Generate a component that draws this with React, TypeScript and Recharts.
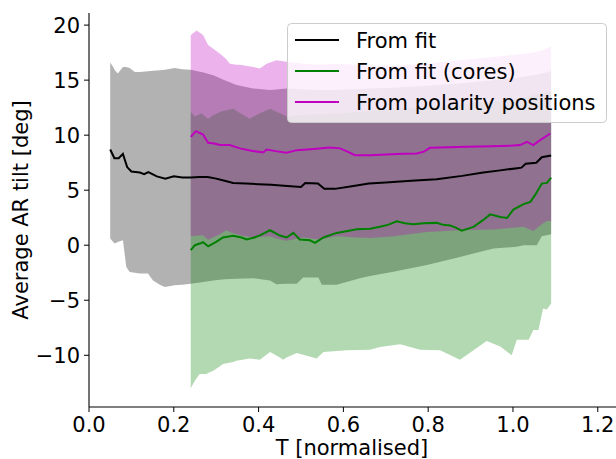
import { ComposedChart, Area, Line, XAxis, YAxis } from 'recharts';

// T [normalised] grid and values for "From fit"
const fitT = [0.05, 0.06, 0.07, 0.08, 0.09, 0.10, 0.12, 0.13, 0.14, 0.16, 0.18, 0.20, 0.22, 0.24, 0.26, 0.28, 0.30, 0.32, 0.34, 0.37, 0.40, 0.43, 0.46, 0.50, 0.51, 0.54, 0.555, 0.58, 0.62, 0.66, 0.70, 0.76, 0.82, 0.88, 0.93, 0.97, 1.01, 1.02, 1.03, 1.055, 1.068, 1.09];
const fitMean = [8.7, 7.9, 7.9, 8.3, 7.1, 6.7, 6.6, 6.45, 6.65, 6.25, 6.05, 6.27, 6.15, 6.15, 6.2, 6.2, 6.05, 5.85, 5.66, 5.6, 5.55, 5.5, 5.4, 5.3, 5.66, 5.6, 5.12, 5.12, 5.35, 5.6, 5.7, 5.85, 6.0, 6.3, 6.6, 6.8, 7.0, 7.05, 7.4, 7.5, 8.0, 8.15];

const fitBandT = [0.05, 0.057, 0.061, 0.068, 0.08, 0.088, 0.096, 0.108, 0.12, 0.139, 0.151, 0.167, 0.179, 0.202, 0.22, 0.24, 0.27, 0.293, 0.32, 0.348, 0.387, 0.427, 0.442, 0.466, 0.49, 0.505, 0.541, 0.549, 0.584, 0.639, 0.663, 0.718, 0.797, 0.875, 0.954, 1.009, 1.025, 1.056, 1.068, 1.09];
const fitHigh = [16.6, 16.2, 15.9, 15.6, 16.2, 16.2, 16.1, 15.75, 15.75, 15.8, 15.85, 15.9, 15.95, 16.1, 16.0, 15.95, 15.7, 15.45, 15.0, 14.55, 14.25, 14.1, 14.15, 14.25, 14.2, 14.15, 14.1, 14.1, 14.1, 14.2, 14.25, 14.3, 14.5, 14.7, 15.0, 15.2, 15.3, 15.5, 15.6, 15.8];
const fitLow = [0.6, 0.3, 0.15, 0.3, 0.45, -1.97, -2.43, -2.5, -2.57, -2.57, -3.2, -3.6, -3.8, -3.64, -3.6, -3.5, -3.35, -3.2, -3.1, -3.05, -3.0, -3.2, -3.55, -3.5, -3.5, -2.94, -2.94, -3.6, -3.6, -3.0, -2.8, -2.4, -1.8, -1.06, -0.3, -0.15, 0.0, 0.0, 0.82, 1.0];

// "From fit (cores)"
const coreT = [0.24, 0.25, 0.261, 0.269, 0.281, 0.30, 0.316, 0.34, 0.36, 0.372, 0.39, 0.403, 0.427, 0.45, 0.466, 0.482, 0.497, 0.521, 0.533, 0.553, 0.584, 0.61, 0.631, 0.663, 0.686, 0.705, 0.726, 0.745, 0.765, 0.79, 0.82, 0.835, 0.852, 0.865, 0.879, 0.907, 0.93, 0.946, 0.97, 0.986, 1.001, 1.025, 1.041, 1.052, 1.068, 1.08, 1.09];
const coreMean = [-0.45, 0.0, 0.15, 0.27, -0.1, 0.3, 0.7, 0.85, 0.7, 0.52, 0.7, 0.9, 1.36, 0.88, 0.7, 1.12, 0.52, 0.45, 0.21, 0.7, 1.12, 1.3, 1.45, 1.5, 1.67, 1.85, 2.18, 2.0, 1.9, 2.0, 2.03, 1.85, 1.8, 1.6, 1.33, 1.67, 2.3, 2.8, 2.57, 2.48, 3.24, 3.73, 3.94, 4.55, 5.6, 5.66, 6.15];

const coreBandT = [0.24, 0.25, 0.261, 0.265, 0.277, 0.281, 0.293, 0.309, 0.316, 0.34, 0.348, 0.379, 0.403, 0.427, 0.45, 0.458, 0.466, 0.49, 0.537, 0.553, 0.608, 0.663, 0.686, 0.734, 0.781, 0.828, 0.875, 0.907, 0.938, 0.97, 0.997, 1.009, 1.037, 1.048, 1.06, 1.071, 1.08, 1.09];
const coreHigh = [12.1, 11.7, 11.9, 12.0, 11.6, 11.5, 11.8, 12.1, 12.2, 12.4, 12.2, 11.5, 12.0, 12.4, 12.0, 11.85, 11.7, 11.8, 11.9, 11.9, 12.0, 12.2, 12.3, 12.4, 12.5, 12.6, 12.8, 12.9, 13.0, 13.1, 13.2, 13.3, 13.5, 13.6, 13.7, 13.8, 13.9, 14.0];
const coreLow = [-13.0, -12.3, -11.7, -11.7, -11.7, -11.6, -11.4, -11.0, -10.8, -10.6, -10.5, -10.3, -10.4, -9.7, -10.2, -10.4, -10.2, -9.8, -10.3, -9.7, -9.55, -9.5, -9.25, -9.0, -9.5, -9.55, -10.4, -9.55, -8.7, -9.2, -10.0, -8.6, -8.6, -7.7, -7.7, -5.75, -5.85, -5.3];

// "From polarity positions"
const polT = [0.24, 0.252, 0.269, 0.281, 0.295, 0.309, 0.332, 0.356, 0.38, 0.411, 0.419, 0.44, 0.466, 0.49, 0.53, 0.568, 0.592, 0.61, 0.627, 0.663, 0.70, 0.74, 0.773, 0.79, 0.804, 0.85, 0.891, 0.95, 1.0, 1.017, 1.033, 1.048, 1.064, 1.088];
const polMean = [9.85, 10.36, 10.06, 9.3, 9.25, 9.1, 9.1, 8.8, 8.6, 8.43, 8.7, 8.55, 8.4, 8.64, 8.75, 8.88, 8.8, 8.5, 8.18, 8.18, 8.25, 8.3, 8.33, 8.5, 8.85, 8.9, 8.94, 9.0, 9.05, 9.1, 9.4, 9.1, 9.55, 10.15];

const polBandT = [0.24, 0.254, 0.269, 0.281, 0.309, 0.324, 0.332, 0.348, 0.356, 0.387, 0.403, 0.419, 0.427, 0.442, 0.466, 0.505, 0.545, 0.584, 0.631, 0.663, 0.718, 0.797, 0.875, 0.954, 1.025, 1.048, 1.068, 1.08, 1.09];
const polHigh = [19.1, 19.5, 19.1, 18.2, 17.4, 16.9, 16.5, 16.4, 16.4, 16.2, 16.06, 16.5, 16.6, 16.8, 16.66, 16.5, 16.4, 16.5, 16.4, 16.3, 16.3, 16.5, 16.8, 17.1, 17.4, 17.5, 17.7, 17.9, 18.1];
const polLow = [0.82, 0.85, 0.9, 0.5, 1.0, 1.36, 1.2, 1.0, 0.9, 0.7, 0.75, 0.8, 0.82, 0.6, 0.4, 0.7, 0.52, 0.82, 0.7, 0.66, 0.82, 1.2, 1.36, 1.42, 1.67, 1.3, 1.9, 2.2, 2.2];

const xTicks = [0, 0.2, 0.4, 0.6, 0.8, 1.0, 1.2];
const yTicks = [-10, -5, 0, 5, 10, 15, 20];

const legendItems = [
  { name: 'From fit', color: '#000000' },
  { name: 'From fit (cores)', color: '#008000' },
  { name: 'From polarity positions', color: '#bf00bf' },
];

const line = (t: number[], v: number[]) => t.map((x, i) => ({ t: x, v: v[i] }));
const band = (t: number[], lo: number[], hi: number[]) => t.map((x, i) => ({ t: x, range: [lo[i], hi[i]] }));

const fitLine = line(fitT, fitMean);
const coreLine = line(coreT, coreMean);
const polLine = line(polT, polMean);
const fitArea = band(fitBandT, fitLow, fitHigh);
const coreArea = band(coreBandT, coreLow, coreHigh);
const polArea = band(polBandT, polLow, polHigh);

const font = 'DejaVu Sans, sans-serif';
const fs = 21;
const minus = (v: number) => (v < 0 ? '\u2212' + Math.abs(v) : String(v));

function LegendBox() {
  return (
    <svg width={321} height={101} style={{ display: 'block', position: 'absolute', left: 287, top: 23 }}>
      <rect x={0.5} y={0.5} width={319} height={99} rx={4} fill="#ffffff" fillOpacity={0.8} stroke="#cccccc" />
      {legendItems.map((it, i) => (
        <g key={it.name}>
          <line x1={8} x2={52} y1={17 + i * 31} y2={17 + i * 31} stroke={it.color} strokeWidth={2} />
          <text x={69} y={25 + i * 31} fontSize={fs} fontFamily={font} fill="#000">{it.name}</text>
        </g>
      ))}
    </svg>
  );
}

export default function App() {
  return (
    <div style={{ width: 616, height: 459, fontFamily: font, position: 'relative' }}>
      <style>{'body{margin:0}'}</style>
      <ComposedChart width={616} height={459} margin={{ top: 13, right: 0, bottom: 0, left: 0 }}>
        <XAxis
          type="number"
          dataKey="t"
          domain={[0, 1.243]}
          ticks={xTicks}
          allowDataOverflow
          tickFormatter={(v: number) => v.toFixed(1)}
          tick={{ fill: '#000', fontSize: fs, fontFamily: font }}
          tickLine={{ stroke: '#000' }}
          axisLine={{ stroke: '#000', strokeWidth: 1.1 }}
          tickSize={5}
          tickMargin={5}
          height={52}
          label={{
            content: () => (
              <text x={352} y={455} textAnchor="middle" fontSize={fs} fontFamily={font} fill="#000">T [normalised]</text>
            ),
          }}
        />
        <XAxis
          xAxisId="top"
          orientation="top"
          type="number"
          domain={[0, 1.243]}
          tick={false}
          tickLine={false}
          height={0}
          axisLine={{ stroke: '#000', strokeWidth: 1.1 }}
        />
        <YAxis
          type="number"
          domain={[-14.7, 21.1]}
          ticks={yTicks}
          allowDataOverflow
          tickFormatter={minus}
          tick={{ fill: '#000', fontSize: fs, fontFamily: font }}
          tickLine={{ stroke: '#000' }}
          axisLine={{ stroke: '#000', strokeWidth: 1.1 }}
          tickSize={5}
          tickMargin={4}
          width={89}
          label={{
            content: () => (
              <text x={28} y={210} transform="rotate(-90 28 210)" textAnchor="middle" fontSize={fs} fontFamily={font} fill="#000">Average AR tilt [deg]</text>
            ),
          }}
        />
        <Area data={fitArea} dataKey="range" type="linear" stroke="none" fill="#000000" fillOpacity={0.3} isAnimationActive={false} />
        <Area data={coreArea} dataKey="range" type="linear" stroke="none" fill="#008000" fillOpacity={0.3} isAnimationActive={false} />
        <Area data={polArea} dataKey="range" type="linear" stroke="none" fill="#bf00bf" fillOpacity={0.3} isAnimationActive={false} />
        <Line data={fitLine} dataKey="v" type="linear" stroke="#000000" strokeWidth={2} dot={false} isAnimationActive={false} />
        <Line data={coreLine} dataKey="v" type="linear" stroke="#008000" strokeWidth={2} dot={false} isAnimationActive={false} />
        <Line data={polLine} dataKey="v" type="linear" stroke="#bf00bf" strokeWidth={2} dot={false} isAnimationActive={false} />
      </ComposedChart>
      <LegendBox />
    </div>
  );
}
